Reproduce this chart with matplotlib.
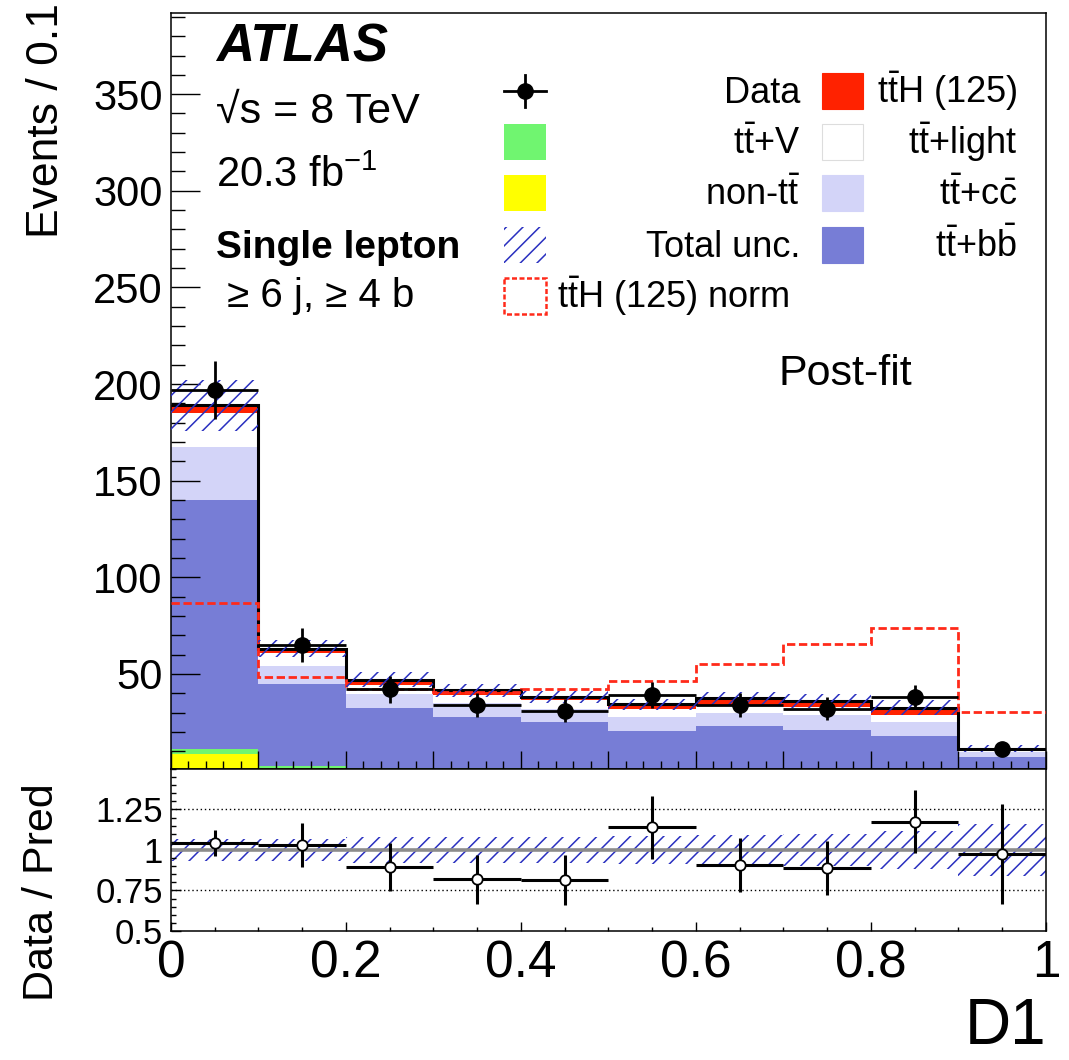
import matplotlib
matplotlib.use("Agg")
import matplotlib.pyplot as plt
from matplotlib.patches import Rectangle
from matplotlib.ticker import MultipleLocator
import numpy as np

plt.rcParams["font.family"] = ["Liberation Sans", "DejaVu Sans"]
plt.rcParams["hatch.linewidth"] = 1.1
plt.rcParams["hatch.color"] = "#2a30c0"

# D1 binning
bin_edges = [0.0, 0.1, 0.2, 0.3, 0.4, 0.5, 0.6, 0.7, 0.8, 0.9, 1.0]

# post-fit stack, bottom -> top
non_tt = [8.8, 1.5, 0.8, 0.6, 0.6, 0.5, 0.5, 0.5, 0.5, 0.2]
tt_v = [2.6, 0.9, 0.6, 0.5, 0.5, 0.5, 0.5, 0.5, 0.5, 0.2]
tt_bb = [128.6, 42.2, 31.1, 26.5, 23.9, 19.7, 22.3, 20.1, 17.1, 6.4]
tt_cc = [27.4, 9.3, 7.2, 7.4, 7.0, 6.9, 6.6, 7.4, 6.9, 2.6]
tt_light = [17.6, 6.7, 4.8, 4.0, 4.3, 4.4, 3.8, 4.3, 3.5, 1.2]
tth = [4.0, 2.5, 2.5, 2.5, 1.7, 2.2, 3.8, 3.1, 3.9, 0.7]

# ttH normalised to total background (dashed)
tth_norm = [86.5, 48.3, 42.0, 40.5, 42.0, 46.3, 55.3, 65.6, 73.7, 30.2]

# data
data = [197, 65, 42, 34, 31, 39, 34, 32, 38, 11]
data_err = [15, 8.6, 6.9, 6.3, 5.9, 6.7, 6.2, 6.0, 6.3, 3.5]

# total uncertainty (relative)
unc_rel = [0.07, 0.07, 0.08, 0.08, 0.08, 0.085, 0.09, 0.10, 0.12, 0.16]

# legend
legend_left = ["Data", r"$\mathregular{t\bar{t}}$+V", r"non-$\mathregular{t\bar{t}}$",
               "Total unc.", r"$\mathregular{t\bar{t}H}$ (125) norm"]
legend_right = [r"$\mathregular{t\bar{t}H}$ (125)", r"$\mathregular{t\bar{t}}$+light",
                r"$\mathregular{t\bar{t}}$+$\mathregular{c\bar{c}}$",
                r"$\mathregular{t\bar{t}}$+$\mathregular{b\bar{b}}$"]

c_yellow = "#ffff00"
c_green = "#70f570"
c_bb = "#777dd6"
c_cc = "#d3d4f8"
c_light = "white"
c_red = "#ff2200"
c_hatch = "#2a30c0"
c_dash = "#ff2a1a"

edges = np.array(bin_edges)
centers = 0.5 * (edges[:-1] + edges[1:])
halfw = 0.5 * (edges[1:] - edges[:-1])

fig = plt.figure(figsize=(10.69, 10.60), dpi=100)
ax = fig.add_axes([0.15996, 0.27453, 0.81852, 0.71321])
rax = fig.add_axes([0.15996, 0.12170, 0.81852, 0.15283])

# stacked histogram
bottom = np.zeros(len(data))
for vals, col in [(non_tt, c_yellow), (tt_v, c_green), (tt_bb, c_bb),
                  (tt_cc, c_cc), (tt_light, c_light), (tth, c_red)]:
    top = bottom + np.array(vals)
    ax.stairs(top, edges, baseline=bottom, fill=True, color=col, lw=0, zorder=1)
    bottom = top
total = bottom

ax.stairs(total, edges, baseline=None, color="black", lw=2.2, zorder=3)
ax.stairs(tth_norm, edges, baseline=None, color=c_dash, lw=2.0,
          ls=(0, (3, 1.3)), zorder=4)

rel = np.array(unc_rel)
ax.stairs(total * (1 + rel), edges, baseline=total * (1 - rel), fill=True,
          facecolor="none", edgecolor=c_hatch, hatch="//", lw=0, zorder=5)

ax.errorbar(centers, data, yerr=data_err, xerr=halfw, fmt="o", color="black",
            ms=11, elinewidth=2, capsize=0, zorder=6)

ax.set_xlim(0, 1)
ax.set_ylim(0.8, 392)
ax.yaxis.set_major_locator(MultipleLocator(50))
ax.yaxis.set_minor_locator(MultipleLocator(10))
ax.xaxis.set_major_locator(MultipleLocator(0.1))
ax.xaxis.set_minor_locator(MultipleLocator(0.02))
ax.tick_params(axis="both", which="both", direction="in", top=False, right=False,
               labelbottom=False, width=1)
ax.tick_params(axis="y", which="major", length=21, labelsize=30, pad=6)
ax.tick_params(axis="y", which="minor", length=10)
ax.tick_params(axis="x", which="major", length=13)
ax.tick_params(axis="x", which="minor", length=6)

# ratio panel
ratio = np.array(data) / total
ratio_err = np.array(data_err) / total
rax.stairs(1 + rel, edges, baseline=1 - rel, fill=True, facecolor="none",
           edgecolor=c_hatch, hatch="//", lw=0, zorder=1)
rax.axhline(1, color="#8c8c8c", lw=2.6, zorder=2)
for yv in (0.75, 1.25):
    rax.axhline(yv, color="black", lw=1, ls=(0, (1, 2)), zorder=2)
rax.errorbar(centers, ratio, yerr=ratio_err, xerr=halfw, fmt="o", color="black",
             mfc="white", mec="black", mew=1.3, ms=7.5, elinewidth=2.2,
             capsize=0, zorder=3)

rax.set_xlim(0, 1)
rax.set_ylim(0.5, 1.5)
rax.set_yticks([0.5, 0.75, 1, 1.25], ["0.5", "0.75", "1", "1.25"])
rax.yaxis.set_minor_locator(MultipleLocator(0.05))
rax.set_xticks([0, 0.2, 0.4, 0.6, 0.8, 1.0], ["0", "0.2", "0.4", "0.6", "0.8", "1"])
rax.xaxis.set_minor_locator(MultipleLocator(0.05))
rax.tick_params(axis="both", which="both", direction="in", top=False, right=False,
                width=1)
rax.tick_params(axis="y", which="major", length=7, labelsize=25, pad=6)
rax.tick_params(axis="y", which="minor", length=3.5)
rax.tick_params(axis="x", which="major", length=6.5, labelsize=37, pad=6)
rax.tick_params(axis="x", which="minor", length=3.2)

for a in (ax, rax):
    for s in a.spines.values():
        s.set_linewidth(1.1)

# overlay in pixel coordinates for labels and legend
ov = fig.add_axes([0, 0, 1, 1], zorder=10)
ov.set_xlim(0, 1069)
ov.set_ylim(1060, 0)
ov.axis("off")

ov.text(47, 3, "Events / 0.1", rotation=90, ha="center", va="top", fontsize=32)
ov.text(42, 783, "Data / Pred", rotation=90, ha="center", va="top", fontsize=31)
ov.text(1046, 1044, "D1", ha="right", va="baseline", fontsize=46)

ov.text(216, 62, "ATLAS", fontsize=38, fontweight="bold", fontstyle="italic")
ov.text(216, 123, "√s = 8 TeV", fontsize=31)
ov.text(216, 187, r"20.3 fb$^{\mathregular{-1}}$", fontsize=30)
ov.text(216, 258, "Single lepton", fontsize=28, fontweight="bold")
ov.text(216, 307, " ≥ 6 j, ≥ 4 b", fontsize=29)
ov.text(778, 385, "Post-fit", fontsize=31)

rows = [91, 142, 193, 245, 296]
# left column symbols
ov.plot([504, 546], [rows[0], rows[0]], color="black", lw=2)
ov.plot([525, 525], [rows[0] - 16, rows[0] + 16], color="black", lw=2)
ov.plot([525], [rows[0]], "o", color="black", ms=11)
ov.add_patch(Rectangle((504, rows[1] - 18), 42, 36, facecolor=c_green, lw=0))
ov.add_patch(Rectangle((504, rows[2] - 18), 42, 36, facecolor=c_yellow, lw=0))
ov.add_patch(Rectangle((504, rows[3] - 18), 42, 36, facecolor="none",
                       edgecolor=c_hatch, hatch="//", lw=0))
ov.add_patch(Rectangle((504, rows[4] - 18), 42, 36, facecolor="white",
                       edgecolor=c_dash, lw=1.8, ls=(0, (2, 1))))
for i, lab in enumerate(legend_left[:4]):
    ov.text(800, rows[i] + 12, lab, ha="right", va="baseline", fontsize=26)
ov.text(557, rows[4] + 12, legend_left[4], ha="left", va="baseline", fontsize=26)

# right column
for i, (lab, col) in enumerate(zip(legend_right, [c_red, c_light, c_cc, c_bb])):
    ec = "#dddddd" if col == c_light else col
    ov.add_patch(Rectangle((822, rows[i] - 18), 41, 36, facecolor=col,
                           edgecolor=ec, lw=0.8))
    ov.text(1017, rows[i] + 12, lab, ha="right", va="baseline", fontsize=26)

fig.savefig("out.png", dpi=100)
